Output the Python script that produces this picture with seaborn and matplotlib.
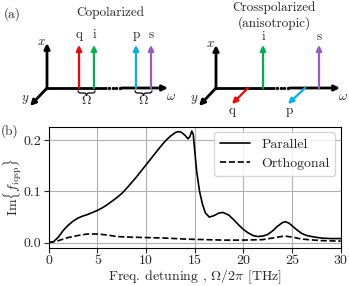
import numpy as np
import pandas as pd
import seaborn as sns
import matplotlib
matplotlib.use("Agg")
import matplotlib.pyplot as plt
from matplotlib.path import Path
from matplotlib.patches import PathPatch

# ---------------- data ----------------
freq_par = [0, 0.5, 1.0, 1.5, 2.0, 2.5, 3.0, 3.5, 4.0, 4.5, 5.0, 5.5, 6.0, 6.5, 7.0, 7.5,
            8.0, 8.5, 9.0, 9.5, 10.0, 10.5, 11.0, 11.5, 12.0, 12.5, 13.0, 13.3, 13.6, 14.0,
            14.3, 14.5, 14.7, 14.85, 15.0, 15.2, 15.5, 15.8, 16.1, 16.5, 17.0, 17.5, 17.9,
            18.5, 19.0, 19.5, 20.0, 20.5, 21.0, 21.5, 22.0, 22.5, 23.0, 23.5, 24.0, 24.3,
            24.7, 25.0, 25.5, 26.0, 26.5, 27.0, 28.0, 29.0, 30.0]
parallel = [0.0, 0.002, 0.011, 0.024, 0.034, 0.042, 0.048, 0.052, 0.055, 0.059, 0.063, 0.068,
            0.074, 0.081, 0.088, 0.096, 0.106, 0.117, 0.128, 0.140, 0.152, 0.164, 0.176,
            0.188, 0.199, 0.208, 0.215, 0.217, 0.216, 0.210, 0.203, 0.207, 0.218, 0.212,
            0.180, 0.140, 0.100, 0.075, 0.058, 0.050, 0.053, 0.058, 0.059, 0.054, 0.045,
            0.035, 0.026, 0.019, 0.014, 0.012, 0.013, 0.016, 0.023, 0.032, 0.039, 0.041,
            0.038, 0.033, 0.025, 0.018, 0.014, 0.012, 0.009, 0.008, 0.008]
freq_orth = [0, 1, 2, 3, 4, 5, 6, 7, 8, 10, 12, 14, 16, 18, 20, 22, 23, 24.2, 25, 26, 28, 30]
orthogonal = [0.0, 0.004, 0.010, 0.014, 0.017, 0.017, 0.015, 0.012, 0.011, 0.010, 0.009,
              0.007, 0.006, 0.005, 0.005, 0.006, 0.009, 0.013, 0.011, 0.007, 0.004, 0.003]
series_names = ["Parallel", "Orthogonal"]
x_ticks = [0, 5, 10, 15, 20, 25, 30]
y_ticks = [0.0, 0.1, 0.2]

# ---------------- style ----------------
sns.set_theme(style="ticks")
plt.rcParams["font.family"] = ["serif"]
plt.rcParams["font.serif"] = ["cmr10", "DejaVu Serif"]
plt.rcParams["mathtext.fontset"] = "cm"
plt.rcParams["axes.formatter.use_mathtext"] = True
plt.rcParams["axes.unicode_minus"] = False

W, H = 349, 286
fig = plt.figure(figsize=(W / 100, H / 100), dpi=100)

# --------- panel (a): schematic, in pixel coordinates ---------
axa = fig.add_axes([0, 0, 1, 1])
axa.set_xlim(0, W)
axa.set_ylim(H, 0)
axa.axis("off")

def arrow(x0, y0, x1, y1, color, lw=1.6, ms=8):
    axa.annotate("", xy=(x1, y1), xytext=(x0, y0),
                 arrowprops=dict(arrowstyle="-|>", color=color, lw=lw,
                                 mutation_scale=ms, shrinkA=0, shrinkB=0))

def brace(x0, x1, y, d=5.0, r=2.5, lw=0.9):
    xm = (x0 + x1) / 2
    h = y + d / 2
    verts = [(x0, y), (x0, h), (x0 + r, h), (xm - r, h), (xm, h), (xm, y + d),
             (xm, h), (xm + r, h), (x1 - r, h), (x1, h), (x1, y)]
    codes = [Path.MOVETO, Path.CURVE3, Path.CURVE3, Path.LINETO, Path.CURVE3, Path.CURVE3,
             Path.CURVE3, Path.CURVE3, Path.LINETO, Path.CURVE3, Path.CURVE3]
    axa.add_patch(PathPatch(Path(verts, codes), fill=False, lw=lw, edgecolor="black"))

red, green, blue, purple = "#ff0000", "#00b050", "#00b0f0", "#9b59d0"
fs = 9.5
fsb = 10

def frame(ox, oy, xtop, wend, dots):
    axa.plot([ox, dots[0]], [oy, oy], color="black", lw=2, solid_capstyle="butt")
    axa.plot(np.linspace(dots[0] + 2, dots[1] - 2, 4), [oy] * 4, ls="none",
             marker="o", ms=1.4, color="black")
    arrow(dots[1], oy, wend, oy, "black", lw=2)
    arrow(ox, oy + 1, ox, xtop, "black", lw=2)
    arrow(ox, oy, ox - 17, oy + 18, "black", lw=2)
    axa.text(ox - 6, xtop - 1, r"$x$", fontsize=fs, ha="center", va="center")
    axa.text(ox - 22, oy + 12, r"$y$", fontsize=fs, ha="center", va="center")
    axa.text(wend + 3, oy + 9, r"$\omega$", fontsize=fs, ha="center", va="center")

# left diagram
ox, oy = 47, 88
frame(ox, oy, 43, 168, (107, 122))
for xp, c, lab in [(79, red, "q"), (94, green, "i"), (136, blue, "p"), (151, purple, "s")]:
    arrow(xp, oy, xp, 45, c)
    axa.text(xp, 35, lab, fontsize=fs, ha="center", va="center")
brace(78, 95, 90.5)
brace(135, 152, 90.5)
axa.text(86.5, 101, r"$\Omega$", fontsize=fs, ha="center", va="center")
axa.text(143.5, 101, r"$\Omega$", fontsize=fs, ha="center", va="center")
axa.text(110, 13, "Copolarized", fontsize=fs, ha="center", va="center")
axa.text(12, 14, "(a)", fontsize=fs, ha="center", va="center")

# right diagram
ox, oy = 216, 88
frame(ox, oy, 45, 340, (275, 290))
arrow(263, oy, 263, 45, green)
axa.text(263, 37, "i", fontsize=fs, ha="center", va="center")
arrow(319, oy, 319, 45, purple)
axa.text(319, 37, "s", fontsize=fs, ha="center", va="center")
arrow(248, oy, 232, 104, red)
axa.text(232, 111, "q", fontsize=fs, ha="center", va="center")
arrow(305, oy, 288, 104, blue)
axa.text(289, 111, "p", fontsize=fs, ha="center", va="center")
axa.text(274, 7.5, "Crosspolarized", fontsize=fs, ha="center", va="center")
axa.text(274, 23.5, "(anisotropic)", fontsize=fs, ha="center", va="center")

# --------- panel (b) ---------
ax_h = 248.3 - 126.7
ax_w = 340.7 - 48.7
ax = fig.add_axes([48.7 / W, 1 - 248.3 / H, ax_w / W, ax_h / H])
df_par = pd.DataFrame({"freq": freq_par, "val": parallel})
df_orth = pd.DataFrame({"freq": freq_orth, "val": orthogonal})
sns.lineplot(data=df_par, x="freq", y="val", ax=ax, color="black", lw=1.2,
             label=series_names[0])
sns.lineplot(data=df_orth, x="freq", y="val", ax=ax, color="black", lw=1.2,
             ls="--", label=series_names[1])
ax.set_xlim(0, 30)
ax.set_ylim(-0.011, 0.2266)
ax.set_xticks(x_ticks)
ax.set_xticklabels([str(v) for v in x_ticks])
ax.set_yticks(y_ticks)
ax.set_yticklabels([f"{v:.1f}" for v in y_ticks])
ax.grid(True, color="#b0b0b0", lw=0.8)
ax.tick_params(labelsize=fsb, length=3.5, width=0.8, pad=2)
ax.tick_params(axis="x", pad=1.5)
for s in ax.spines.values():
    s.set_linewidth(0.8)
    s.set_color("black")
ax.set_xlabel(r"Freq. detuning , $\Omega/2\pi$ [THz]", fontsize=fsb, va="bottom")
ax.xaxis.set_label_coords(0.5, -(285.5 - 248.3) / ax_h)
ax.set_ylabel(r"Im$\{f_{\rm iqsp}\}$", fontsize=fsb, va="center")
ax.yaxis.set_label_coords(-(48.7 - 13) / ax_w, 0.5)
leg = ax.legend(loc="upper right", fontsize=fsb, frameon=True, fancybox=True,
                edgecolor="#cccccc", handlelength=2.2, borderaxespad=0.4)
fig.text(10 / W, 1 - 131 / H, "(b)", fontsize=fs, ha="center", va="center")

fig.savefig("out.png", dpi=100)
